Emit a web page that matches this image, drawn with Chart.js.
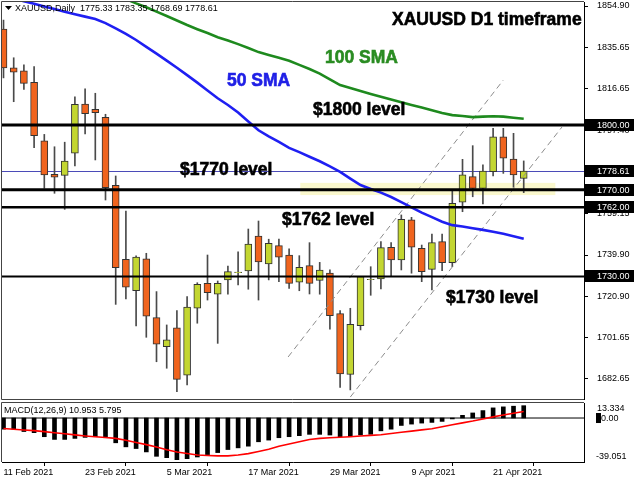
<!DOCTYPE html>
<html><head><meta charset="utf-8">
<script src="https://cdn.jsdelivr.net/npm/chart.js@4.4.1/dist/chart.umd.min.js"></script>
<style>
html,body{margin:0;padding:0;background:#fff;width:640px;height:480px;overflow:hidden}
#main{position:absolute;left:0;top:0}
#macd{position:absolute;left:0;top:400px}
</style></head><body>
<canvas id="main" width="640" height="400"></canvas>
<canvas id="macd" width="640" height="80"></canvas>
<script>
const dates = ['11 Feb 2021','12 Feb 2021','15 Feb 2021','16 Feb 2021','17 Feb 2021','18 Feb 2021','19 Feb 2021','22 Feb 2021','23 Feb 2021','24 Feb 2021','25 Feb 2021','26 Feb 2021',
'1 Mar 2021','2 Mar 2021','3 Mar 2021','4 Mar 2021','5 Mar 2021','8 Mar 2021','9 Mar 2021','10 Mar 2021','11 Mar 2021','12 Mar 2021','15 Mar 2021','16 Mar 2021','17 Mar 2021','18 Mar 2021','19 Mar 2021','22 Mar 2021','23 Mar 2021','24 Mar 2021','25 Mar 2021','26 Mar 2021','29 Mar 2021','30 Mar 2021','31 Mar 2021',
'1 Apr 2021','5 Apr 2021','6 Apr 2021','7 Apr 2021','8 Apr 2021','9 Apr 2021','12 Apr 2021','13 Apr 2021','14 Apr 2021','15 Apr 2021','16 Apr 2021','19 Apr 2021','20 Apr 2021','21 Apr 2021','22 Apr 2021','23 Apr 2021','26 Apr 2021'];
const openP  = [1844.3,1826.4,1825.0,1819.7,1792.6,1777.2,1776.7,1786.9,1809.6,1807.2,1803.5,1772.1,1737.9,1723.4,1738.1,1711.0,1697.6,1706.3,1684.4,1715.3,1726.8,1721.8,1728.4,1731.7,1732.5,1748.7,1735.8,1744.2,1739.9,1727.3,1735.0,1728.2,1731.5,1712.8,1684.8,1707.3,1728.5,1728.8,1743.5,1737.6,1756.1,1743.0,1733.3,1746.1,1736.4,1764.3,1776.1,1770.7,1778.4,1794.5,1784.2,1775.33];
const highP  = [1848.4,1831.0,1827.7,1826.9,1795.6,1789.9,1792.0,1813.0,1816.6,1814.6,1804.9,1776.4,1760.2,1739.5,1740.7,1723.0,1707.6,1714.2,1720.7,1727.1,1739.9,1727.9,1734.8,1741.4,1751.9,1755.6,1747.2,1747.2,1742.7,1739.6,1745.6,1736.5,1733.0,1714.2,1715.3,1730.0,1734.5,1746.1,1745.6,1758.4,1757.3,1744.5,1749.6,1749.6,1770.0,1784.1,1790.4,1781.5,1798.4,1798.4,1796.1,1783.35];
const lowP   = [1821.7,1810.7,1816.4,1789.5,1770.7,1768.4,1761.0,1781.0,1795.8,1783.8,1765.3,1717.1,1719.6,1707.1,1701.9,1690.6,1687.6,1676.8,1679.9,1708.4,1719.1,1699.1,1721.8,1726.1,1724.1,1719.1,1728.4,1727.6,1724.5,1723.4,1721.9,1721.8,1705.6,1678.8,1677.6,1705.3,1721.3,1724.2,1730.2,1733.0,1731.5,1727.6,1723.8,1732.7,1734.5,1759.9,1766.8,1763.5,1776.4,1777.6,1771.2,1768.69];
const closeP = [1826.3,1824.4,1819.2,1795.0,1776.9,1775.8,1783.3,1809.5,1805.2,1805.6,1771.0,1734.1,1725.0,1738.9,1711.7,1698.7,1700.7,1682.5,1715.8,1726.4,1722.5,1726.8,1732.2,1732.0,1744.9,1736.7,1745.3,1738.9,1726.8,1734.2,1726.8,1732.9,1711.9,1685.0,1707.9,1729.9,1728.7,1743.3,1737.6,1756.4,1743.5,1732.2,1745.6,1736.4,1763.8,1776.9,1770.7,1778.7,1794.5,1784.6,1776.9,1778.61];
const sma50  = [1859.5,1858.3,1857.1,1855.9,1854.7,1853.5,1852.3,1851.1,1850.0,1848.9,1847.0,1844.6,1842.0,1839.2,1836.0,1832.9,1829.7,1826.4,1823.0,1819.5,1815.9,1812.3,1809.2,1805.7,1801.6,1797.5,1794.7,1792.1,1789.4,1787.4,1785.3,1783.2,1780.8,1778.3,1775.2,1772.2,1770.4,1768.7,1766.7,1764.3,1761.9,1759.5,1757.4,1755.3,1753.7,1753.1,1752.3,1751.5,1750.6,1749.7,1748.6,1747.4];
const sma100 = [1881.0,1879.1,1877.2,1875.3,1873.4,1871.5,1869.5,1867.6,1865.7,1863.8,1861.9,1860.0,1858.1,1856.1,1854.3,1852.3,1850.3,1848.2,1846.1,1844.2,1842.4,1840.5,1839.0,1837.3,1835.5,1833.6,1832.3,1831.0,1829.6,1827.7,1825.8,1823.7,1821.0,1818.4,1817.0,1815.6,1814.3,1813.0,1811.7,1810.4,1809.2,1808.0,1806.8,1805.5,1804.5,1804.1,1803.6,1803.8,1804.0,1803.8,1803.3,1802.8];
const macdMain   = [-9.9,-9.9,-12.0,-13.0,-16.6,-19.0,-19.0,-18.1,-17.2,-16.6,-17.5,-22.0,-25.6,-27.1,-30.1,-34.0,-35.2,-37.0,-36.1,-34.6,-32.5,-30.7,-28.0,-26.5,-25.0,-21.1,-19.6,-17.5,-16.6,-15.7,-14.5,-14.5,-15.1,-16.6,-16.6,-15.1,-14.5,-11.4,-9.9,-6.6,-5.4,-4.5,-3.9,-3.0,-0.8,2.4,4.5,6.6,9.0,9.9,10.5,10.953];
const macdSignal = [-9.3,-10.0,-10.6,-11.2,-12.1,-13.1,-14.0,-15.0,-15.9,-16.6,-17.3,-18.1,-19.8,-21.7,-23.6,-25.8,-28.2,-30.1,-31.5,-32.8,-33.3,-33.6,-33.6,-32.8,-31.6,-29.8,-27.8,-25.0,-23.0,-21.0,-19.0,-18.1,-17.5,-17.1,-16.6,-16.0,-15.4,-14.8,-13.7,-12.6,-11.6,-10.5,-9.6,-7.8,-6.0,-4.3,-2.7,-0.8,1.0,2.7,4.3,5.795];
const priceTicks = [1854.90,1835.65,1816.65,1797.40,1778.15,1759.15,1739.90,1720.90,1701.65,1682.65];
const levels = [1800, 1770, 1762, 1730];
const levelWidths = [3, 3, 2.5, 2];
const levelTexts = ['$1800 level','$1770 level','$1762 level','$1730 level'];
const lastPrice = 1778.61;
const upperChannel = [[27.9, 1692.8],[49.0, 1820.7]];
const lowerChannel = [[34.0, 1674.3],[54.75, 1799.0]];
const zoneBox = [29.1, 54.1, 1767.6, 1773.2];
const dateTickIdx = [0, 8, 16, 24, 32, 40, 48];
const macdAxisLabels = [13.334, 0, -39.051];
const xMin = -0.147, xMax = 56.91;
const yMin = 1673.4, yMax = 1856.75;

const FONT = '"Liberation Sans", Arial, sans-serif';
const UP = '#c3d631', DOWN = '#f0641e';

function boldText(ctx, t, x, y, color) {
  ctx.fillStyle = color; ctx.strokeStyle = color; ctx.lineWidth = 0.6;
  ctx.fillText(t, x, y); ctx.strokeText(t, x, y);
}

const mainPlugin = {
  id: 'mainDeco',
  beforeDatasetsDraw(chart) {
    const {ctx, chartArea: a, scales: {x, y}} = chart;
    ctx.save();
    ctx.fillStyle = 'rgba(250,247,200,0.9)';
    const x0 = x.getPixelForValue(zoneBox[0]), x1 = x.getPixelForValue(zoneBox[1]);
    const y0 = y.getPixelForValue(zoneBox[3]), y1 = y.getPixelForValue(zoneBox[2]);
    ctx.fillRect(x0, y0, x1 - x0, y1 - y0);
    ctx.strokeStyle = '#4b4bb8'; ctx.lineWidth = 1;
    const yp = Math.round(y.getPixelForValue(lastPrice)) + 0.5;
    ctx.beginPath(); ctx.moveTo(a.left, yp); ctx.lineTo(a.right, yp); ctx.stroke();
    ctx.restore();
  },
  afterDatasetsDraw(chart) {
    const {ctx, chartArea: a, scales: {y}} = chart;
    ctx.save();
    levels.forEach((lv, k) => {
      const yp = y.getPixelForValue(lv);
      ctx.strokeStyle = '#000'; ctx.lineWidth = levelWidths[k];
      ctx.beginPath(); ctx.moveTo(a.left, yp); ctx.lineTo(a.right + 12, yp); ctx.stroke();
    });
    ctx.restore();
  },
  afterDraw(chart) {
    const {ctx, chartArea: a, scales: {y}} = chart;
    ctx.save();
    ctx.strokeStyle = '#444'; ctx.lineWidth = 1;
    ctx.beginPath();
    ctx.moveTo(a.right, a.top - 0.5); ctx.lineTo(a.left - 0.5, a.top - 0.5);
    ctx.lineTo(a.left - 0.5, a.bottom + 0.5); ctx.lineTo(a.right, a.bottom + 0.5);
    ctx.stroke();
    ctx.font = '9px ' + FONT; ctx.textBaseline = 'middle'; ctx.textAlign = 'left';
    [lastPrice, ...levels].forEach(v => {
      const yp = Math.round(y.getPixelForValue(v));
      ctx.fillStyle = '#000'; ctx.fillRect(a.right + 1, yp - 6, 49, 12);
      ctx.fillStyle = '#fff'; ctx.fillText(v.toFixed(2), a.right + 13, yp + 0.5);
    });
    ctx.fillStyle = '#000';
    ctx.beginPath(); ctx.moveTo(5, 6); ctx.lineTo(12, 6); ctx.lineTo(8.5, 10); ctx.closePath(); ctx.fill();
    ctx.font = '9px ' + FONT;
    ctx.fillText('XAUUSD,Daily  ' + [openP[51], highP[51], lowP[51], closeP[51]].map(v => v.toFixed(2)).join(' '), 15, 9);
    ctx.font = 'bold 17.5px ' + FONT;
    boldText(ctx, 'XAUUSD D1 timeframe', 392, 20, '#000');
    boldText(ctx, '100 SMA', 325, 58, '#2a8c22');
    boldText(ctx, '50 SMA', 227, 81, '#2020e6');
    const pos = [[313, 110], [180, 170], [282, 220], [446, 298]];
    levelTexts.forEach((t, k) => boldText(ctx, t, pos[k][0], pos[k][1], '#000'));
    ctx.restore();
  }
};

const pts = arr => arr.map((v, i) => ({x: i, y: v}));

new Chart(document.getElementById('main'), {
  type: 'bar',
  data: {
    datasets: [
      {type: 'line', data: pts(sma50), borderColor: '#1f1ff2', borderWidth: 2.6, pointRadius: 0, tension: 0, fill: false, order: 1},
      {type: 'line', data: pts(sma100), borderColor: '#1e8a1e', borderWidth: 2.6, pointRadius: 0, tension: 0, fill: false, order: 1},
      {type: 'line', data: upperChannel.map(p => ({x: p[0], y: p[1]})), borderColor: '#8c8c8c', borderWidth: 1, borderDash: [6, 4], pointRadius: 0, fill: false, order: 2},
      {type: 'line', data: lowerChannel.map(p => ({x: p[0], y: p[1]})), borderColor: '#8c8c8c', borderWidth: 1, borderDash: [6, 4], pointRadius: 0, fill: false, order: 2},
      {type: 'bar', data: dates.map((d, i) => ({x: i, y: [lowP[i], highP[i]]})), backgroundColor: '#4a4a4a', barThickness: 1, grouped: false, order: 5},
      {type: 'bar', data: dates.map((d, i) => ({x: i, y: [openP[i], closeP[i]]})),
       backgroundColor: dates.map((d, i) => closeP[i] >= openP[i] ? UP : DOWN),
       borderColor: '#333', borderWidth: 1, borderSkipped: false, barThickness: 7, grouped: false, order: 4}
    ]
  },
  options: {
    responsive: false, animation: false, devicePixelRatio: 1,
    layout: {padding: {left: 2, top: 2, right: 0, bottom: 1}},
    plugins: {legend: {display: false}, tooltip: {enabled: false}},
    scales: {
      x: {type: 'linear', offset: false, min: xMin, max: xMax, display: false},
      y: {type: 'linear', position: 'right', min: yMin, max: yMax, beginAtZero: false,
          afterBuildTicks: s => { s.ticks = priceTicks.map(v => ({value: v})); },
          afterFit: s => { s.width = 56; s.paddingTop = 0; s.paddingBottom = 0; },
          ticks: {callback: v => Number(v).toFixed(2), font: {size: 9, family: FONT}, color: '#000', padding: 9},
          grid: {drawOnChartArea: false, drawTicks: true, tickLength: 4, color: '#000'},
          border: {display: true, color: '#000'}}
    }
  },
  plugins: [mainPlugin]
});

const macdPlugin = {
  id: 'macdDeco',
  afterDraw(chart) {
    const {ctx, chartArea: a, scales: {y}} = chart;
    ctx.save();
    ctx.strokeStyle = '#444'; ctx.lineWidth = 1;
    ctx.beginPath();
    ctx.moveTo(a.right, a.top - 0.5); ctx.lineTo(a.left - 0.5, a.top - 0.5); ctx.lineTo(a.left - 0.5, a.bottom);
    ctx.stroke();
    ctx.font = '9px ' + FONT; ctx.textBaseline = 'middle'; ctx.textAlign = 'left'; ctx.fillStyle = '#000';
    ctx.fillText('MACD(12,26,9) ' + macdMain[51].toFixed(3) + ' ' + macdSignal[51].toFixed(3), 4, 11);
    const yTop = y.getPixelForValue(macdAxisLabels[0]) + 6;
    const yZero = y.getPixelForValue(macdAxisLabels[1]);
    const yBot = y.getPixelForValue(macdAxisLabels[2]) - 5;
    ctx.fillText(macdAxisLabels[0].toFixed(3), a.right + 13, yTop);
    ctx.fillRect(a.right + 12, yZero - 5, 5, 10);
    ctx.fillText(macdAxisLabels[1].toFixed(2), a.right + 17, yZero);
    ctx.fillText(macdAxisLabels[2].toFixed(3), a.right + 12, yBot);
    ctx.restore();
  }
};

new Chart(document.getElementById('macd'), {
  type: 'bar',
  data: {
    datasets: [
      {type: 'line', data: pts(macdSignal), borderColor: '#ff0000', borderWidth: 1.6, pointRadius: 0, tension: 0, fill: false, order: 0},
      {type: 'line', data: [{x: xMin, y: 0}, {x: xMax, y: 0}], borderColor: '#000', borderWidth: 1, pointRadius: 0, fill: false, order: 1},
      {type: 'bar', data: pts(macdMain), backgroundColor: '#000', barThickness: 4, order: 2}
    ]
  },
  options: {
    responsive: false, animation: false, devicePixelRatio: 1,
    layout: {padding: {left: 2, top: 3, right: 0, bottom: 0}},
    plugins: {legend: {display: false}, tooltip: {enabled: false}},
    scales: {
      x: {type: 'linear', offset: false, min: xMin, max: xMax, position: 'bottom',
          afterBuildTicks: s => { s.ticks = dateTickIdx.map(v => ({value: v})); },
          afterFit: s => { s.height = 18; s.paddingLeft = 0; s.paddingRight = 0; },
          ticks: {align: 'start', maxRotation: 0, minRotation: 0, autoSkip: false, callback: v => dates[v], font: {size: 9, family: FONT}, color: '#000', padding: 1},
          grid: {drawOnChartArea: false, drawTicks: true, tickLength: 4, color: '#000'},
          border: {display: true, color: '#000'}},
      y: {type: 'linear', position: 'right', min: -39.051, max: 13.334, beginAtZero: false,
          afterFit: s => { s.width = 56; s.paddingTop = 0; s.paddingBottom = 0; },
          ticks: {display: false}, grid: {display: false},
          border: {display: true, color: '#000'}}
    }
  },
  plugins: [macdPlugin]
});
</script>
</body></html>
